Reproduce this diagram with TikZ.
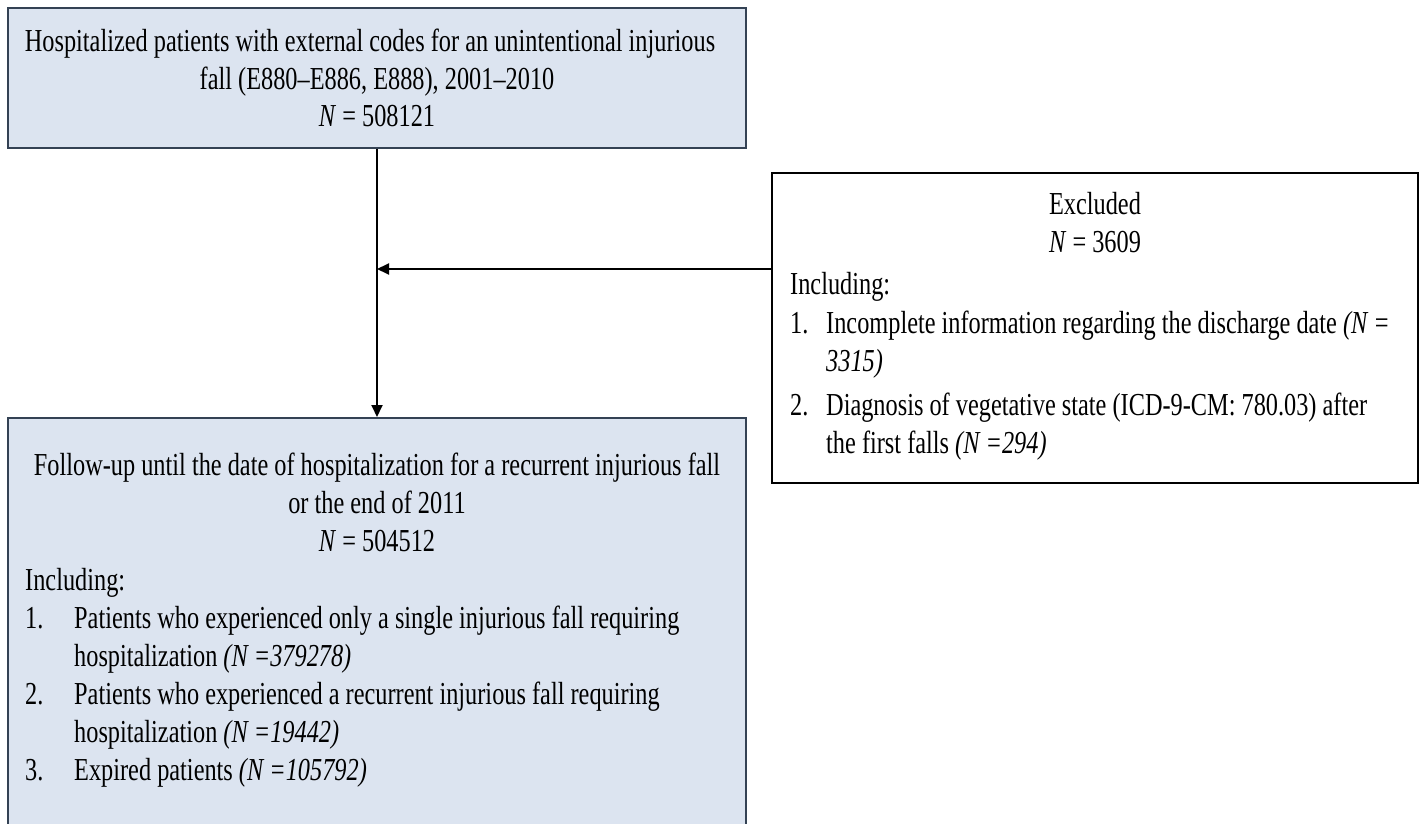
\documentclass[tikz,border=0pt]{standalone}
\usepackage{fontspec}
\setmainfont[FakeStretch=0.76]{Liberation Serif}
\usetikzlibrary{arrows.meta}
\definecolor{boxfill}{RGB}{220,228,240}
\definecolor{boxline}{RGB}{52,66,84}
\tikzset{
  bluebox/.style={draw=boxline, line width=2pt, fill=boxfill, inner sep=0pt, minimum width=738pt},
  whitebox/.style={draw=black, line width=2pt, fill=white, inner sep=0pt},
  conn/.style={draw=black, line width=2pt, -{Triangle[length=12pt,width=11pt]}},
  ctext/.style={anchor=mid, inner sep=0pt, font=\fontsize{32}{38}\selectfont},
  ltext/.style={anchor=mid west, inner sep=0pt, font=\fontsize{32}{38}\selectfont}
}
\begin{document}
\begin{tikzpicture}[x=1pt,y=-1pt]
\useasboundingbox (0,0) rectangle (1422,824);
\clip (0,0) rectangle (1422,824);
% boxes
\node[bluebox, minimum height=140pt] (top) at (377,78) {};
\node[bluebox, minimum height=482pt] (bot) at (377,659) {};
\node[whitebox, minimum width=646pt, minimum height=310pt] (excl) at (1095,328) {};
% top text
\node[ctext] (t1) at (370,49) {Hospitalized patients with external codes for an unintentional injurious};
\node[ctext] (t2) at (377,87) {fall (E880–E886, E888), 2001–2010};
\node[ctext] (t3) at (377,124) {\textit{N} = 508121};
% excluded text
\node[ctext] (e1) at (1095,212) {Excluded};
\node[ctext] (e2) at (1095,250) {\textit{N} = 3609};
\node[ltext] (e3) at (790,292) {Including:};
\node[ltext] (e4n) at (790,331) {1.};
\node[ltext] (e4) at (826,331) {Incomplete information regarding the discharge date \textit{(N =}};
\node[ltext] (e5) at (826,369) {\textit{3315)}};
\node[ltext] (e6n) at (790,413) {2.};
\node[ltext] (e6) at (826,413) {Diagnosis of vegetative state (ICD-9-CM: 780.03) after};
\node[ltext] (e7) at (826,451) {the first falls \textit{(N =294)}};
% bottom text
\node[ctext] (b1) at (377,473) {Follow-up until the date of hospitalization for a recurrent injurious fall};
\node[ctext] (b2) at (377,511) {or the end of 2011};
\node[ctext] (b3) at (377,549) {\textit{N} = 504512};
\node[ltext] (b4) at (25,588) {Including:};
\node[ltext] (b5n) at (25,626) {1.};
\node[ltext] (b5) at (74,626) {Patients who experienced only a single injurious fall requiring};
\node[ltext] (b6) at (74,664) {hospitalization \textit{(N =379278)}};
\node[ltext] (b7n) at (25,702) {2.};
\node[ltext] (b7) at (74,702) {Patients who experienced a recurrent injurious fall requiring};
\node[ltext] (b8) at (74,740) {hospitalization \textit{(N =19442)}};
\node[ltext] (b9n) at (25,778) {3.};
\node[ltext] (b9) at (74,778) {Expired patients \textit{(N =105792)}};
% connectors
\coordinate (j) at (top.south |- 0,269);
\draw[conn] (top.south) -- (bot.north);
\draw[conn] (excl.west |- j) -- (j);
\end{tikzpicture}
\end{document}
